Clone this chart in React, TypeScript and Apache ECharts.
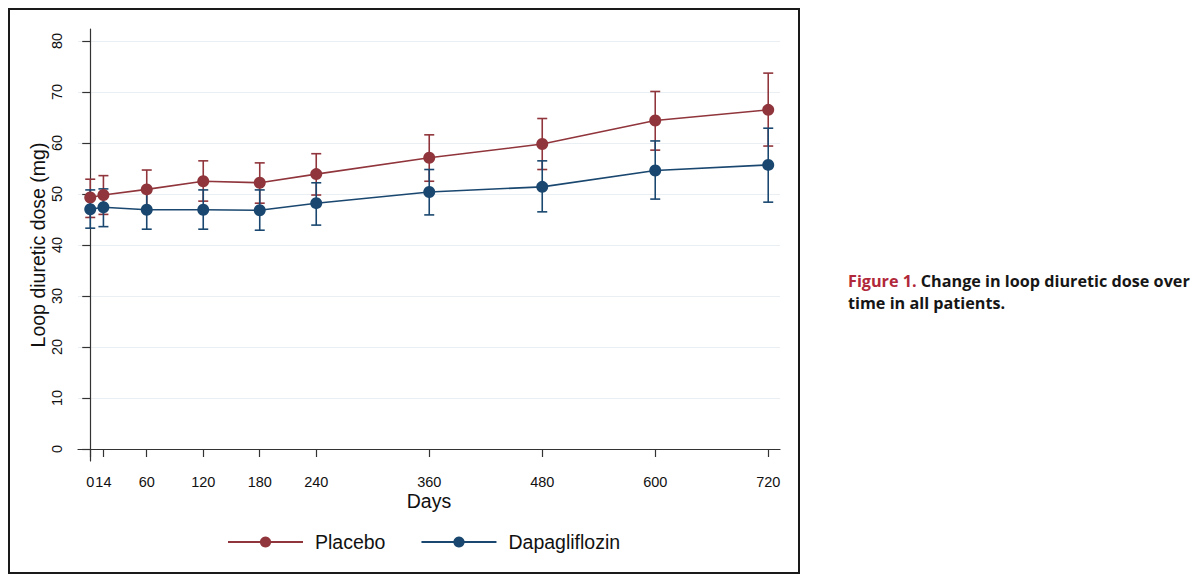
import React, { useEffect, useRef } from "react";
import * as echarts from "echarts";

const days = [0, 14, 60, 120, 180, 240, 360, 480, 600, 720];
const placeboMean = [49.3, 49.8, 50.9, 52.5, 52.2, 53.9, 57.1, 59.8, 64.4, 66.5];
const placeboLow = [45.4, 46.0, 47.1, 48.6, 48.2, 49.8, 52.5, 54.8, 58.6, 59.4];
const placeboHigh = [52.9, 53.6, 54.7, 56.5, 56.1, 57.9, 61.6, 64.8, 70.1, 73.7];
const dapaMean = [47.0, 47.4, 46.9, 46.9, 46.8, 48.2, 50.4, 51.4, 54.6, 55.7];
const dapaLow = [43.3, 43.6, 43.1, 43.1, 42.9, 43.9, 45.9, 46.5, 49.0, 48.4];
const dapaHigh = [50.8, 51.0, 50.7, 50.8, 50.8, 52.2, 54.8, 56.5, 60.4, 62.9];
const yTicks = [0, 10, 20, 30, 40, 50, 60, 70, 80];
const xTicks = days;

const PLACEBO = "#90353B";
const DAPA = "#1A476F";
const FONT = "'Liberation Sans', Arial, Helvetica, sans-serif";

function errorBars(name: string, color: string, low: number[], high: number[]) {
  return {
    type: "custom",
    name,
    data: days.map((d, i) => [d, low[i], high[i]]),
    encode: { x: 0, y: [1, 2] },
    z: 1,
    renderItem: (params: any, api: any) => {
      const x = api.value(0);
      const pLo = api.coord([x, api.value(1)]);
      const pHi = api.coord([x, api.value(2)]);
      const hw = 5;
      const style = { stroke: color, lineWidth: 1.6, fill: "none" };
      return {
        type: "group",
        children: [
          { type: "line", shape: { x1: pLo[0], y1: pLo[1], x2: pHi[0], y2: pHi[1] }, style },
          { type: "line", shape: { x1: pLo[0] - hw, y1: pLo[1], x2: pLo[0] + hw, y2: pLo[1] }, style },
          { type: "line", shape: { x1: pHi[0] - hw, y1: pHi[1], x2: pHi[0] + hw, y2: pHi[1] }, style },
        ],
      };
    },
  };
}

export default function App() {
  const ref = useRef<HTMLDivElement>(null);
  useEffect(() => {
    document.body.style.margin = "0";
    const chart = echarts.init(ref.current!, undefined, { renderer: "svg" });
    const textBase = { fontFamily: FONT, color: "#111" };
    chart.setOption({
      animation: false,
      backgroundColor: "#fff",
      grid: { left: 78, right: 420, top: 29, bottom: 121 },
      xAxis: {
        type: "value",
        min: -13,
        max: 732.5,
        name: "Days",
        nameLocation: "middle",
        nameGap: 30,
        nameMoveOverlap: false,
        nameTextStyle: { ...textBase, fontSize: 19.5 },
        axisLine: { show: true, lineStyle: { color: "#333", width: 1.2 } },
        axisTick: { show: true, length: 8, customValues: xTicks, lineStyle: { color: "#333", width: 1.2 } },
        axisLabel: { ...textBase, fontSize: 14.5, margin: 13, customValues: xTicks },
        splitLine: { show: false },
      },
      yAxis: {
        type: "value",
        min: -2.35,
        max: 82.35,
        name: "Loop diuretic dose (mg)",
        nameLocation: "middle",
        nameGap: 30,
        nameMoveOverlap: false,
        nameTextStyle: { ...textBase, fontSize: 19.5 },
        axisLine: { show: true, lineStyle: { color: "#333", width: 1.2 } },
        axisTick: { show: true, length: 8, customValues: yTicks, lineStyle: { color: "#333", width: 1.2 } },
        axisLabel: { ...textBase, fontSize: 14.5, margin: 14, rotate: 90, customValues: yTicks },
        splitLine: { show: true, lineStyle: { color: "#E9EFF3", width: 1.2 } },
      },
      legend: {
        data: ["Placebo", "Dapagliflozin"],
        left: 227,
        top: 532,
        padding: 0,
        itemWidth: 75,
        itemHeight: 14,
        itemGap: 35,
        textStyle: { ...textBase, fontSize: 19.5, padding: [0, 0, 0, 7] },
      },
      series: [
        errorBars("Placebo CI", PLACEBO, placeboLow, placeboHigh),
        errorBars("Dapagliflozin CI", DAPA, dapaLow, dapaHigh),
        {
          type: "line",
          name: "Placebo",
          data: days.map((d, i) => [d, placeboMean[i]]),
          symbol: "circle",
          symbolSize: 12,
          z: 3,
          lineStyle: { color: PLACEBO, width: 1.6 },
          itemStyle: { color: PLACEBO },
        },
        {
          type: "line",
          name: "Dapagliflozin",
          data: days.map((d, i) => [d, dapaMean[i]]),
          symbol: "circle",
          symbolSize: 12,
          z: 3,
          lineStyle: { color: DAPA, width: 1.6 },
          itemStyle: { color: DAPA },
        },
      ],
      graphic: [
        {
          type: "rect",
          shape: { x: 9, y: 9, width: 790, height: 564 },
          style: { fill: "none", stroke: "#1a1a1a", lineWidth: 2 },
          silent: true,
        },
        {
          type: "text",
          left: 848,
          top: 273,
          style: {
            text: "{r|Figure 1. }{b|Change in loop diuretic dose over}\n{b|time in all patients.}",
            rich: {
              r: { fill: "#B0283A", fontWeight: "bold", fontSize: 16.2, fontFamily: "'Open Sans', sans-serif", lineHeight: 21.6 },
              b: { fill: "#161616", fontWeight: "bold", fontSize: 16.2, fontFamily: "'Open Sans', sans-serif", lineHeight: 21.6 },
            },
          },
        },
      ],
    });
    return () => chart.dispose();
  }, []);
  return <div ref={ref} style={{ width: 1200, height: 582 }} />;
}
